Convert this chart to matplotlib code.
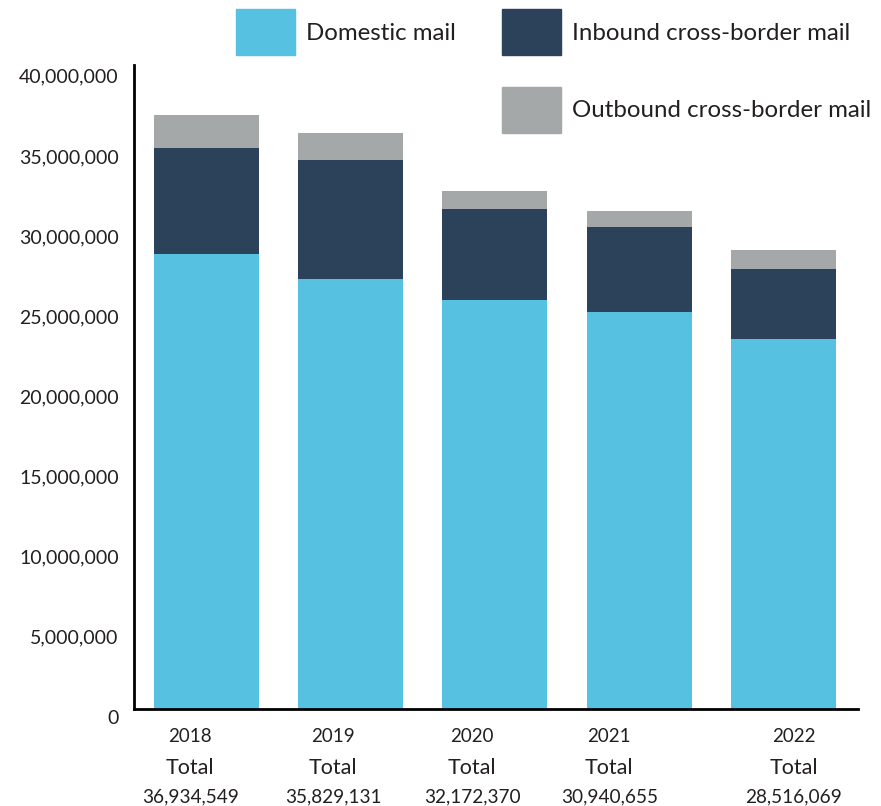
import matplotlib
matplotlib.use("Agg")
import matplotlib.pyplot as plt
import matplotlib.transforms as mtransforms
from matplotlib.patches import Patch
from matplotlib.ticker import FuncFormatter

plt.rcParams['font.family'] = ['Lato', 'DejaVu Sans']

years = ['2018', '2019', '2020', '2021', '2022']
totals = ['36,934,549', '35,829,131', '32,172,370', '30,940,655', '28,516,069']
domestic = [28.38e6, 26.82e6, 25.51e6, 24.77e6, 23.08e6]
inbound = [6.60e6, 7.42e6, 5.68e6, 5.30e6, 4.37e6]
outbound = [2.07e6, 1.71e6, 1.10e6, 0.99e6, 1.19e6]

# label positions are a bit off-center in the original
label_shift = [-0.114, -0.121, -0.159, -0.208, 0.07]

c_dom = '#56C1E0'
c_in = '#2C425B'
c_out = '#A4A8A9'
txt = '#231F20'

fig = plt.figure(figsize=(8.81, 8.06), dpi=100)
ax = fig.add_axes([134 / 881, 1 - 709 / 806, (858 - 134) / 881, (709 - 65) / 806])

x = list(range(len(years)))
w = 0.728
ax.bar(x, domestic, w, color=c_dom, label='Domestic mail')
ax.bar(x, inbound, w, bottom=domestic, color=c_in, label='Inbound cross-border mail')
base2 = [d + i for d, i in zip(domestic, inbound)]
ax.bar(x, outbound, w, bottom=base2, color=c_out, label='Outbound cross-border mail')

ax.set_xlim(-0.503, 4.517)
ax.set_ylim(0, 40.17e6)
ax.set_yticks([i * 5e6 for i in range(9)])
ax.yaxis.set_major_formatter(FuncFormatter(lambda v, p: f'{int(v):,}'))
ax.tick_params(axis='y', length=0, pad=11, labelsize=14, labelcolor=txt)
off = mtransforms.ScaledTranslation(0, -8 / 100, fig.dpi_scale_trans)
for lab in ax.get_yticklabels():
    lab.set_transform(lab.get_transform() + off)
ax.set_xticks([])

for s in ['top', 'right']:
    ax.spines[s].set_visible(False)
ax.spines['left'].set_linewidth(2)
ax.spines['bottom'].set_linewidth(2)

for i, (yr, tot) in enumerate(zip(years, totals)):
    xp = i + label_shift[i]
    ax.text(xp, -27 / 16.03 * 1e6, yr, ha='center', va='center', fontsize=13.5, color=txt)
    ax.text(xp, -59 / 16.03 * 1e6, 'Total', ha='center', va='center', fontsize=15.5, color=txt)
    ax.text(xp, -88 / 16.03 * 1e6, tot, ha='center', va='center', fontsize=13.7, color=txt)

h = [Patch(color=c_dom), Patch(alpha=0), Patch(color=c_in), Patch(color=c_out)]
labs = ['Domestic mail', '', 'Inbound cross-border mail', 'Outbound cross-border mail']
fig.legend(h, labs, ncol=2, loc='upper left', bbox_to_anchor=(236 / 881, 1 - 9 / 806),
           frameon=False, fontsize=17.3, handlelength=2.45, handleheight=2.6,
           handletextpad=0.48, columnspacing=1.9, labelspacing=1.3, borderpad=0,
           borderaxespad=0, labelcolor=txt)

fig.savefig('out.png', dpi=100)
